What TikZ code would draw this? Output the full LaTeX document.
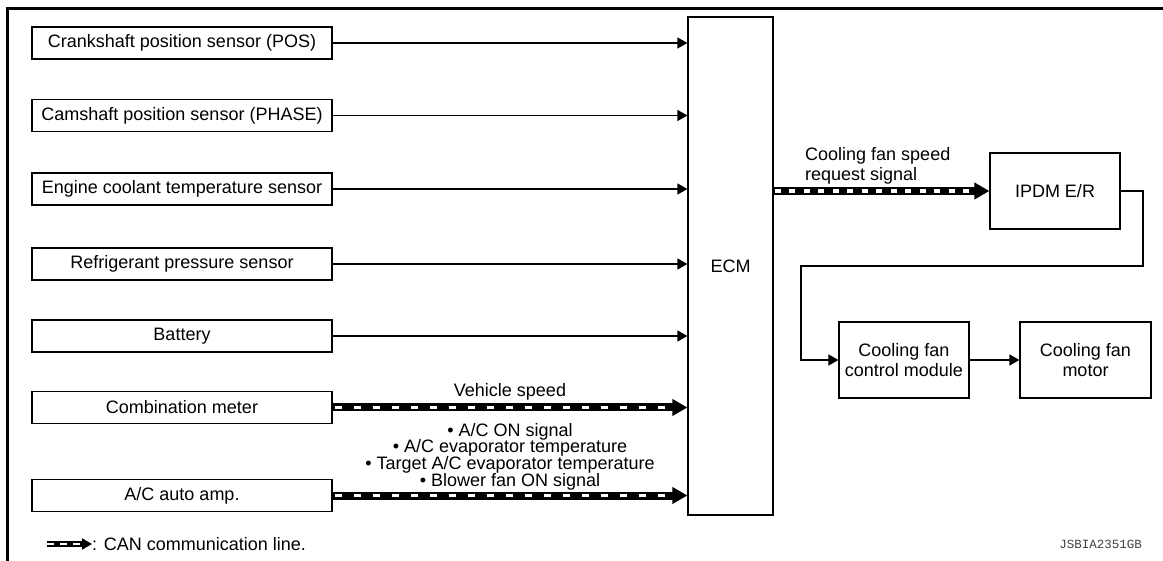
\documentclass[tikz,border=0pt]{standalone}
\usepackage{fontspec}
\setmainfont{Liberation Sans}
\setmonofont{Liberation Mono}
\usetikzlibrary{arrows.meta}
\newcommand\mylblfont{\fontsize{18}{16.7}\selectfont\lineskiplimit-20pt\relax}
\newcommand\myreqfont{\fontsize{18}{20}\selectfont\lineskiplimit-20pt\relax}
\begin{document}
\begin{tikzpicture}[x=1pt,y=-1pt,
  txt/.style={font=\fontsize{18}{20}\selectfont},
  box/.style={draw, line width=1.2pt, inner sep=0pt, txt, align=center},
  lbox/.style={box, minimum width=300pt, minimum height=32pt},
  arr/.style={line width=1.2pt, -{Triangle[length=10pt,width=11pt]}},
  can/.style={line width=8pt, -{Triangle[length=15pt,width=16pt]},
    postaction={draw=white, line width=3.4pt, -, dash pattern=on 7pt off 12pt, shorten <=2pt, shorten >=16pt}},
  canfine/.style={line width=8pt, -{Triangle[length=15pt,width=16pt]},
    postaction={draw=white, line width=3.4pt, -, dash pattern=on 6pt off 8.5pt, shorten <=1pt, shorten >=16pt}},
  cansmall/.style={line width=5.5pt, -{Triangle[length=10pt,width=11pt]},
    postaction={draw=white, line width=2.2pt, -, dash pattern=on 7pt off 6pt, shorten <=0pt, shorten >=11pt}},
  lbl/.style={inner sep=0pt, font=\mylblfont}
]
\useasboundingbox (0,0) rectangle (1163,561);
% frame
\draw[line width=3pt] (7.5,561) -- (7.5,8.5) -- (1163,8.5);

% left boxes
\node[lbox] (s1) at (182,43) {Crankshaft position sensor (POS)};
\node[lbox] (s2) at (182,115.5) {Camshaft position sensor (PHASE)};
\node[lbox] (s3) at (182,189) {Engine coolant temperature sensor};
\node[lbox] (s4) at (182,264) {Refrigerant pressure sensor};
\node[lbox] (s5) at (182,336) {Battery};
\node[lbox] (s6) at (182,407.5) {Combination meter};
\node[lbox] (s7) at (182,495.5) {A/C auto amp.};

% ECM and right side
\node[box, minimum width=85pt, minimum height=498pt] (ecm) at (730.5,266) {ECM};
\node[box, minimum width=130pt, minimum height=76pt] (ipdm) at (1055,191) {IPDM E/R};
\node[box, minimum width=130pt, minimum height=76pt] (ctrl) at (904,360) {Cooling fan\\control module};
\node[box, minimum width=131pt, minimum height=76pt] (motor) at (1085.5,360) {Cooling fan\\motor};

% sensor arrows
\foreach \n in {s1,s2,s3,s4,s5} \draw[arr] (\n.east) -- (\n.east -| ecm.west);
\draw[can] (s6.east) -- (s6.east -| ecm.west);
\draw[can] (s7.east) -- (s7.east -| ecm.west);

% labels
\node[lbl, anchor=base] (vs) at (510,397) {Vehicle speed};
\node[lbl, anchor=north, align=center] (acl) at (510,423)
  {\textbullet\ A/C ON signal\\\textbullet\ A/C evaporator temperature\\\textbullet\ Target A/C evaporator temperature\\\textbullet\ Blower fan ON signal};
\node[inner sep=0pt, font=\myreqfont, anchor=north west, align=left] (req) at (805,147.5) {Cooling fan speed\\request signal};

% ECM to IPDM
\draw[canfine] (ecm.east |- ipdm.west) -- (ipdm.west);
\coordinate (b1) at (1143,266);
\coordinate (b2) at (801,266);
\draw[arr] (ipdm.east) -- (ipdm.east -| b1) -- (b1) -- (b2) |- (ctrl.west);
\draw[arr] (ctrl.east) -- (motor.west);

% legend
\coordinate (l1) at (47,544);
\node[txt, anchor=west, inner sep=0pt] (leg) at (92,544) {: CAN communication line.};
\draw[cansmall] (l1) -- (leg.west);

\node[anchor=base east, inner sep=0pt, text=black!75, font=\ttfamily\fontsize{12.5}{14}\selectfont] (code) at (1142,548) {JSBIA2351GB};
\end{tikzpicture}
\end{document}
